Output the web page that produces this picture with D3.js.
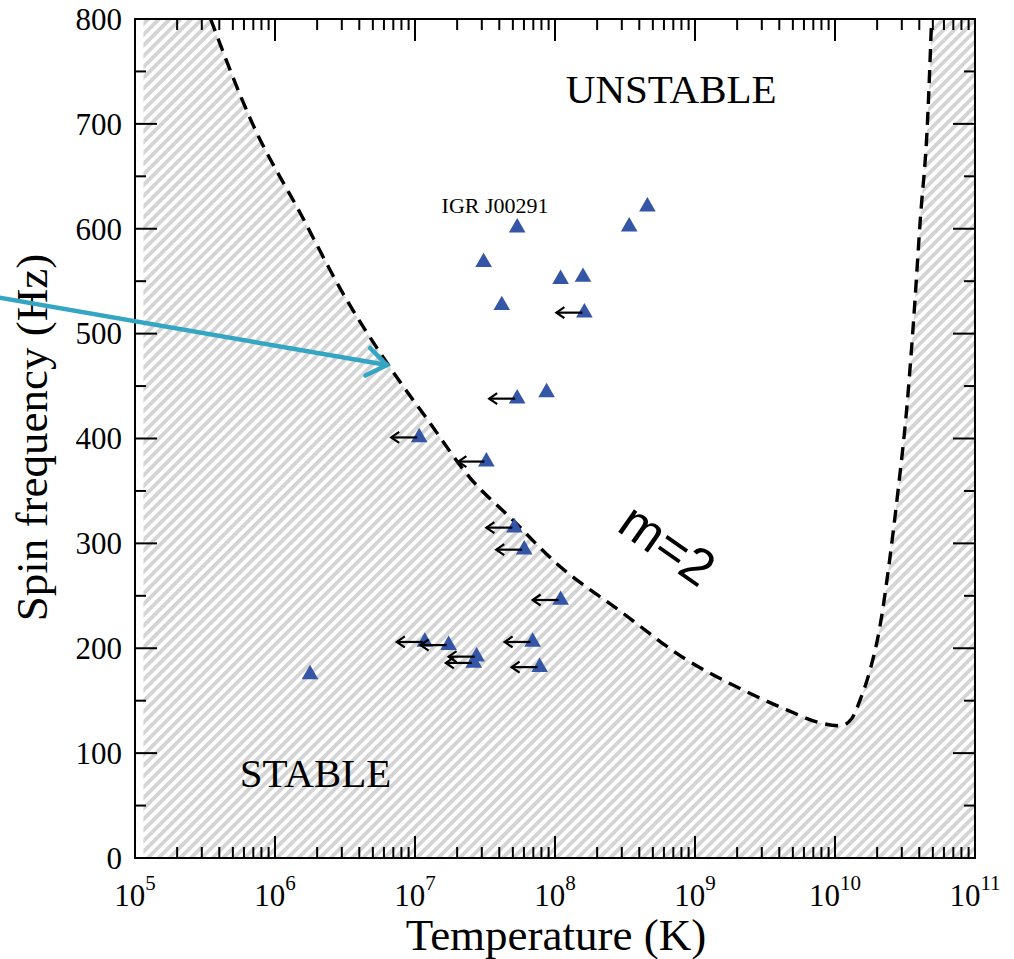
<!DOCTYPE html>
<html>
<head>
<meta charset="utf-8">
<script src="https://cdn.jsdelivr.net/npm/d3@7"></script>
<style>
  body { margin: 0; background: #fff; }
  text { font-family: "Liberation Serif", "Times New Roman", serif; }
</style>
</head>
<body>
<div id="chart"></div>
<script>
// r-mode instability window (log10 of temperature, spin frequency)
var curveLogT = [5.54, 5.84, 6.18, 6.50, 6.80, 7.10, 7.39, 7.70, 8.01, 8.46, 8.94, 9.30,
                 9.66, 9.89, 10.04, 10.12, 10.18, 10.25, 10.32, 10.39, 10.45, 10.51,
                 10.56, 10.61, 10.66, 10.69];
var curveFreq = [800, 700, 615, 535, 472, 416, 363, 322, 281, 236, 189, 163,
                 141, 129, 126, 133, 151, 179, 220, 284, 350, 425,
                 510, 610, 700, 800];

// LMXB sources
var pointLogT  = [6.25, 7.73, 7.49, 7.62, 8.04, 8.20, 8.53, 8.66, 8.21, 7.73, 7.94,
                  7.03, 7.51, 7.71, 7.78, 8.04, 7.07, 7.24, 7.44, 7.42, 7.84, 7.89];
var pointFreq  = [175, 601, 568, 527, 552, 554, 602, 621, 520, 438, 444,
                  401, 378, 315, 294, 246, 206, 203, 192, 186, 206, 182];
var pointLimit = [0, 0, 0, 0, 0, 0, 0, 0, 1, 1, 0,
                  1, 1, 1, 1, 1, 1, 1, 1, 1, 1, 1];

var yTicks = [0, 100, 200, 300, 400, 500, 600, 700, 800];
var xDecades = [5, 6, 7, 8, 9, 10, 11];

// annotation arrow (log10 T, freq): start, tip
var cyanLogT = [4.0, 6.80];
var cyanFreq = [535, 470];

var margin = {top: 19, right: 39, bottom: 101, left: 135},
    width = 1014 - margin.left - margin.right,
    height = 959 - margin.top - margin.bottom;

var svg = d3.select("#chart")
    .append("svg")
    .attr("width", 1014)
    .attr("height", 959);

var defs = svg.append("defs");
var pat = defs.append("pattern")
    .attr("id", "hatch")
    .attr("patternUnits", "userSpaceOnUse")
    .attr("width", 7.6)
    .attr("height", 7.6)
    .attr("patternTransform", "rotate(45)");
pat.append("rect").attr("width", 7.6).attr("height", 7.6).attr("fill", "#fff");
pat.append("rect").attr("width", 3.8).attr("height", 7.6).attr("fill", "#d4d4d4");

defs.append("clipPath").attr("id", "plotclip")
  .append("rect").attr("width", width).attr("height", height);

var g = svg.append("g")
    .attr("transform", "translate(" + margin.left + "," + margin.top + ")");

var x = d3.scaleLog().domain([1e5, 1e11]).range([0, width]);
var y = d3.scaleLinear().domain([0, 800]).range([height, 0]);

var curveData = curveLogT.map(function(t, i) { return {T: Math.pow(10, t), f: curveFreq[i]}; });

// hatched stable region, then white unstable window on top
var plot = g.append("g").attr("clip-path", "url(#plotclip)");
plot.append("rect")
    .attr("x", x(Math.pow(10, 5.06)))
    .attr("width", width - x(Math.pow(10, 5.06)))
    .attr("height", height)
    .attr("fill", "url(#hatch)");

plot.append("path")
    .datum(curveData)
    .attr("fill", "#fff")
    .attr("d", d3.area()
        .curve(d3.curveMonotoneX)
        .x(function(d) { return x(d.T); })
        .y0(y(800) - 5)
        .y1(function(d) { return y(d.f); }));

plot.append("path")
    .datum(curveData)
    .attr("fill", "none")
    .attr("stroke", "#000")
    .attr("stroke-width", 3.4)
    .attr("stroke-dasharray", "13,8")
    .attr("d", d3.line()
        .curve(d3.curveMonotoneX)
        .x(function(d) { return x(d.T); })
        .y(function(d) { return y(d.f); }));

// axes frame
g.append("rect")
    .attr("width", width).attr("height", height)
    .attr("fill", "none").attr("stroke", "#000").attr("stroke-width", 2);

// ticks
var majorLen = 22, minorLen = 11;
var xMinor = [];
xDecades.slice(0, -1).forEach(function(d) {
  for (var k = 2; k <= 9; k++) xMinor.push(k * Math.pow(10, d));
});
var xMajor = xDecades.map(function(d) { return Math.pow(10, d); });
var yMinor = d3.range(50, 800, 100);

var ticks = g.append("g").attr("stroke", "#000").attr("stroke-width", 2);
function xTick(v, len) {
  ticks.append("line").attr("x1", x(v)).attr("x2", x(v)).attr("y1", height).attr("y2", height - len);
  ticks.append("line").attr("x1", x(v)).attr("x2", x(v)).attr("y1", 0).attr("y2", len);
}
function yTick(v, len) {
  ticks.append("line").attr("x1", 0).attr("x2", len).attr("y1", y(v)).attr("y2", y(v));
  ticks.append("line").attr("x1", width).attr("x2", width - len).attr("y1", y(v)).attr("y2", y(v));
}
xMajor.forEach(function(v) { xTick(v, majorLen); });
xMinor.forEach(function(v) { xTick(v, minorLen); });
yTicks.forEach(function(v) { yTick(v, majorLen); });
yMinor.forEach(function(v) { yTick(v, minorLen); });

// tick labels
g.selectAll(".ylab")
  .data(yTicks)
  .enter()
  .append("text")
    .attr("x", -13)
    .attr("y", function(d) { return y(d); })
    .attr("dy", "0.35em")
    .attr("text-anchor", "end")
    .attr("font-size", 31)
    .text(function(d) { return d; });

var xl = g.selectAll(".xlab")
  .data(xDecades)
  .enter()
  .append("text")
    .attr("x", function(d) { return x(Math.pow(10, d)); })
    .attr("y", height + 48)
    .attr("text-anchor", "middle")
    .attr("font-size", 31);
xl.append("tspan").text("10");
xl.append("tspan").attr("dy", -16).attr("font-size", 21).text(function(d) { return d; });

// axis titles
g.append("text")
    .attr("x", width / 2 + 1)
    .attr("y", height + 92)
    .attr("text-anchor", "middle")
    .attr("font-size", 45)
    .text("Temperature (K)");

g.append("text")
    .attr("transform", "translate(" + (-88) + "," + (height / 2 - 1) + ") rotate(-90)")
    .attr("text-anchor", "middle")
    .attr("font-size", 45)
    .text("Spin frequency (Hz)");

// region labels
g.append("text")
    .attr("x", x(Math.pow(10, 8.83)))
    .attr("y", y(720))
    .attr("text-anchor", "middle")
    .attr("font-size", 41)
    .text("UNSTABLE");

g.append("text")
    .attr("x", x(Math.pow(10, 6.29)))
    .attr("y", y(68))
    .attr("text-anchor", "middle")
    .attr("font-size", 41)
    .text("STABLE");

g.append("text")
    .attr("x", x(Math.pow(10, 7.19)))
    .attr("y", y(615))
    .attr("font-size", 22)
    .text("IGR J00291");

g.append("text")
    .attr("transform", "translate(" + x(Math.pow(10, 8.73)) + "," + y(285) + ") rotate(35)")
    .attr("text-anchor", "middle")
    .attr("font-size", 52)
    .attr("style", "font-family: 'Liberation Sans', Arial, sans-serif")
    .text("m=2");

// sources
var pts = pointLogT.map(function(t, i) {
  return {T: Math.pow(10, t), f: pointFreq[i], lim: pointLimit[i]};
});

g.selectAll(".src")
  .data(pts)
  .enter()
  .append("path")
    .attr("transform", function(d) { return "translate(" + x(d.T) + "," + y(d.f) + ")"; })
    .attr("d", d3.symbol().type(d3.symbolTriangle).size(120))
    .attr("fill", "#3556a6");

// upper limit arrows
var arrowLen = 28;
var arr = g.selectAll(".lim")
  .data(pts.filter(function(d) { return d.lim; }))
  .enter()
  .append("g")
    .attr("transform", function(d) { return "translate(" + x(d.T) + "," + y(d.f) + ")"; })
    .attr("fill", "none")
    .attr("stroke", "#000")
    .attr("stroke-width", 2.2);
arr.append("line").attr("x1", -2).attr("x2", -arrowLen).attr("y1", 0).attr("y2", 0);
arr.append("path").attr("d", "M" + (-arrowLen + 8) + ",-5.5 L" + (-arrowLen) + ",0 L" + (-arrowLen + 8) + ",5.5");

// annotation arrow
var cx0 = x(Math.pow(10, cyanLogT[0])), cy0 = y(cyanFreq[0]);
var cx1 = x(Math.pow(10, cyanLogT[1])), cy1 = y(cyanFreq[1]);
var ang = Math.atan2(cy1 - cy0, cx1 - cx0);
var wing = 24, spread = 0.62;
var cyan = g.append("g")
    .attr("fill", "none")
    .attr("stroke", "#34a5c3")
    .attr("stroke-width", 4.5)
    .attr("stroke-linecap", "round");
cyan.append("line").attr("x1", cx0).attr("y1", cy0).attr("x2", cx1).attr("y2", cy1);
cyan.append("path").attr("d",
    "M" + (cx1 - wing * Math.cos(ang - spread)) + "," + (cy1 - wing * Math.sin(ang - spread)) +
    " L" + cx1 + "," + cy1 +
    " L" + (cx1 - wing * Math.cos(ang + spread)) + "," + (cy1 - wing * Math.sin(ang + spread)));
</script>
</body>
</html>
